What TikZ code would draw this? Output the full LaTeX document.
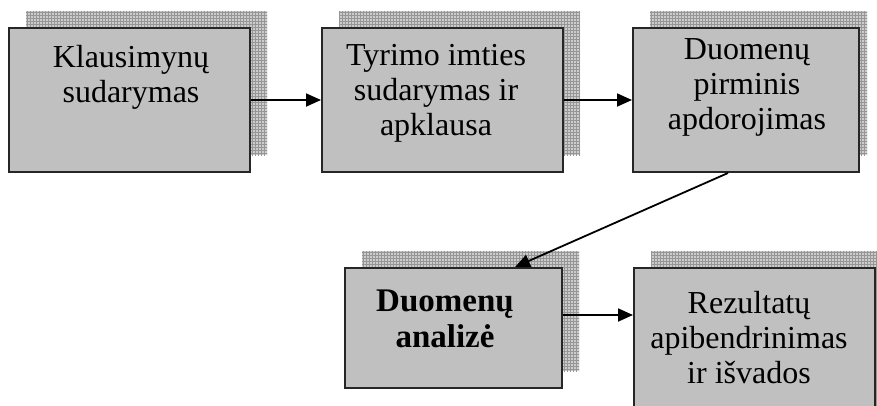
\documentclass[tikz,border=0pt]{standalone}
\usepackage{fontspec}
\setmainfont{Liberation Serif}
\usetikzlibrary{arrows.meta,patterns}
\definecolor{boxfill}{HTML}{C0C0C0}
\definecolor{shadowbg}{HTML}{CCCCCC}
\definecolor{gridline}{HTML}{969696}
\begin{document}
\begin{tikzpicture}[x=1pt,y=-1pt,
  box/.style={draw=black!85, line width=2pt, fill=boxfill, inner sep=0pt},
  shadowfill/.style={fill=shadowbg, postaction={pattern=grid, pattern color=gridline}},
  txt/.style={font=\fontsize{32}{35}\selectfont, align=center, inner sep=0pt, anchor=north},
  conn/.style={line width=1.8pt, draw=black, -{Triangle[length=15pt,width=13pt]}}
]
\clip (0,0) rectangle (877,405);
% shadows
\fill[shadowfill] (26,11) rectangle (267,155);
\fill[shadowfill] (339,11) rectangle (580,155);
\fill[shadowfill] (650,11) rectangle (867,155);
\fill[shadowfill] (362,251) rectangle (579,371);
\fill[shadowfill] (651,251) rectangle (895,420);
% boxes
\node[box, minimum width=241pt, minimum height=144pt] (b1) at (129.5,100) {};
\node[box, minimum width=241pt, minimum height=144pt] (b2) at (442.5,100) {};
\node[box, minimum width=226pt, minimum height=144pt] (b3) at (746,100) {};
\node[box, minimum width=217pt, minimum height=120pt] (b4) at (453.5,328) {};
\node[box, minimum width=241pt, minimum height=170pt] (b5) at (754.5,353) {};
% texts
\node[txt] (t1) at (131,45) {\rule{0pt}{22pt}Klausimynų\\sudarymas};
\node[txt] (t2) at (436,43) {\rule{0pt}{22pt}Tyrimo imties\\sudarymas ir\\apklausa};
\node[txt] (t3) at (747,37) {\rule{0pt}{22pt}Duomenų\\pirminis\\apdorojimas};
\node[txt, font=\fontsize{33}{36}\selectfont\bfseries] (t4) at (445,289) {\rule{0pt}{22pt}Duomenų\\analizė};
\node[txt] (t5) at (749,291) {\rule{0pt}{22pt}Rezultatų\\apibendrinimas\\ir išvados};
% connectors
\draw[conn] (b1.east) -- (b2.west);
\draw[conn] (b2.east) -- (b3.west);
\draw[conn] ([xshift=-18pt]b3.south) -- ([xshift=61.5pt]b4.north);
\coordinate (a4) at ([yshift=13pt]b4.east);
\draw[conn] (a4) -- (a4 -| b5.west);
\end{tikzpicture}
\end{document}
